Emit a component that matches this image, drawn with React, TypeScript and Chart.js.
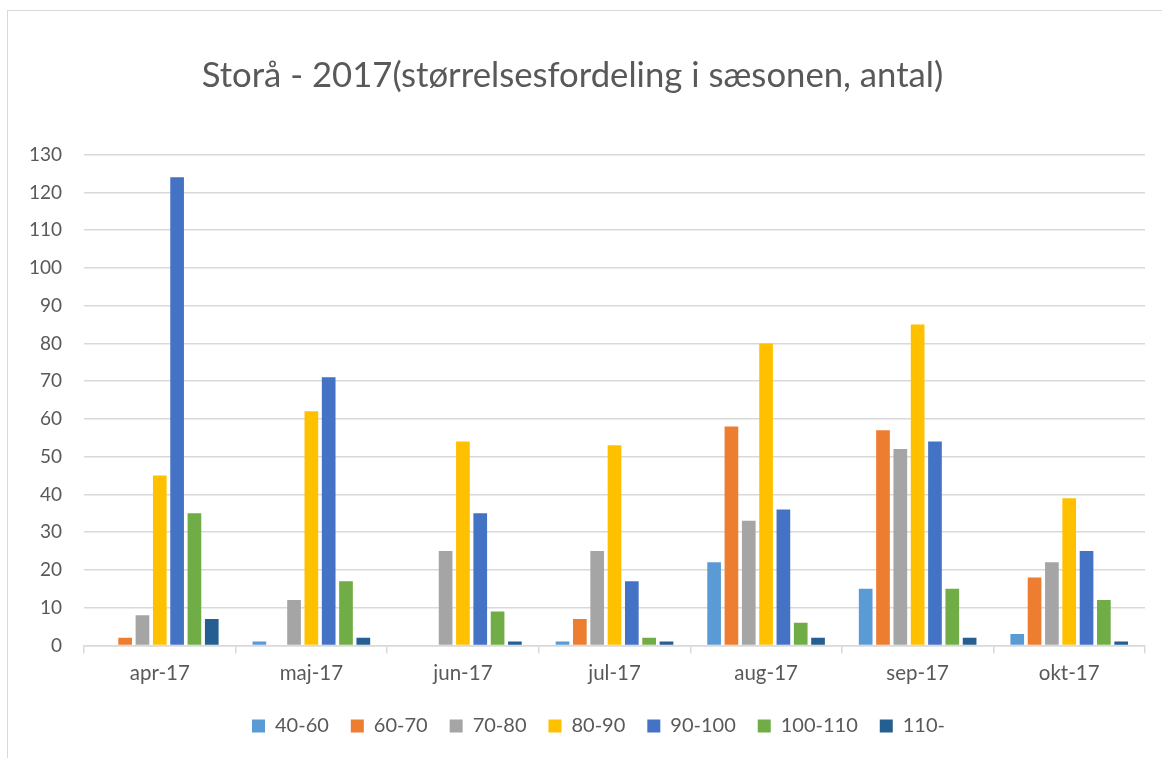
import React, { useEffect, useRef } from "react";
import { Chart, registerables } from "chart.js";

Chart.register(...registerables);

const categories = ["apr-17", "maj-17", "jun-17", "jul-17", "aug-17", "sep-17", "okt-17"];
const seriesNames = ["40-60", "60-70", "70-80", "80-90", "90-100", "100-110", "110-"];
const s40_60 = [0, 1, 0, 1, 22, 15, 3];
const s60_70 = [2, 0, 0, 7, 58, 57, 18];
const s70_80 = [8, 12, 25, 25, 33, 52, 22];
const s80_90 = [45, 62, 54, 53, 80, 85, 39];
const s90_100 = [124, 71, 35, 17, 36, 54, 25];
const s100_110 = [35, 17, 9, 2, 6, 15, 12];
const s110 = [7, 2, 1, 1, 2, 2, 1];
const colors = ["#5B9BD5", "#ED7D31", "#A5A5A5", "#FFC000", "#4472C4", "#70AD47", "#255E91"];
const yTicks = [0, 10, 20, 30, 40, 50, 60, 70, 80, 90, 100, 110, 120, 130];
const title = "Storå - 2017(størrelsesfordeling i sæsonen, antal)";

export default function App() {
  const ref = useRef<HTMLCanvasElement>(null);
  useEffect(() => {
    if (!ref.current) return;
    const all = [s40_60, s60_70, s70_80, s80_90, s90_100, s100_110, s110];
    const font = "Lato, 'Open Sans', sans-serif";
    const shiftLegend = {
      id: "shiftLegend",
      afterLayout(c: any) {
        if (c.legend) c.legend.left += 52;
      },
    };
    const chart = new Chart(ref.current, {
      type: "bar",
      plugins: [shiftLegend],
      data: {
        labels: categories,
        datasets: all.map((d, i) => ({
          label: seriesNames[i],
          data: d,
          backgroundColor: colors[i],
          borderColor: "#ffffff",
          borderWidth: 0,
          categoryPercentage: 0.8,
          barPercentage: 0.79,
        })),
      },
      options: {
        animation: false,
        responsive: false,
        maintainAspectRatio: false,
        layout: { padding: { left: 0, right: 17, top: 0, bottom: 12 } },
        plugins: {
          title: {
            display: true,
            text: title,
            color: "#595959",
            font: { family: font, size: 34.7, weight: "normal" },
            padding: { top: 55, bottom: 58 },
          },
          legend: {
            position: "bottom",
            labels: {
              color: "#595959",
              font: { family: font, size: 20 },
              boxWidth: 13,
              boxHeight: 13,
              padding: 22,
            },
          },
          tooltip: { enabled: false },
        },
        scales: {
          x: {
            grid: {
              display: true,
              drawOnChartArea: false,
              drawTicks: true,
              tickLength: 8,
              color: "#d9d9d9",
              lineWidth: 1.5,
              offset: true,
            },
            border: { color: "#d9d9d9", width: 1.5 },
            ticks: { color: "#595959", font: { family: font, size: 20.5 }, padding: 8 },
          },
          y: {
            min: 0,
            max: 130,
            afterFit: (s: any) => {
              s.width = 84;
            },
            afterBuildTicks: (s: any) => {
              s.ticks = yTicks.map((v) => ({ value: v }));
            },
            grid: { color: "#d9d9d9", lineWidth: 1.5, drawTicks: false },
            border: { display: false },
            ticks: { color: "#595959", font: { family: font, size: 19 }, padding: 22 },
          },
        },
      },
    });
    return () => chart.destroy();
  }, []);
  return (
    <div style={{ position: "fixed", left: 0, top: 0, width: 1162, height: 758, background: "#fff", overflow: "hidden" }}>
      <div
        style={{
          position: "absolute",
          left: 7,
          top: 10,
          width: 1200,
          height: 800,
          borderLeft: "1.5px solid #d9d9d9",
          borderTop: "1.5px solid #d9d9d9",
        }}
      />
      <canvas ref={ref} width={1162} height={758} style={{ position: "absolute", left: 0, top: 0 }} />
    </div>
  );
}
